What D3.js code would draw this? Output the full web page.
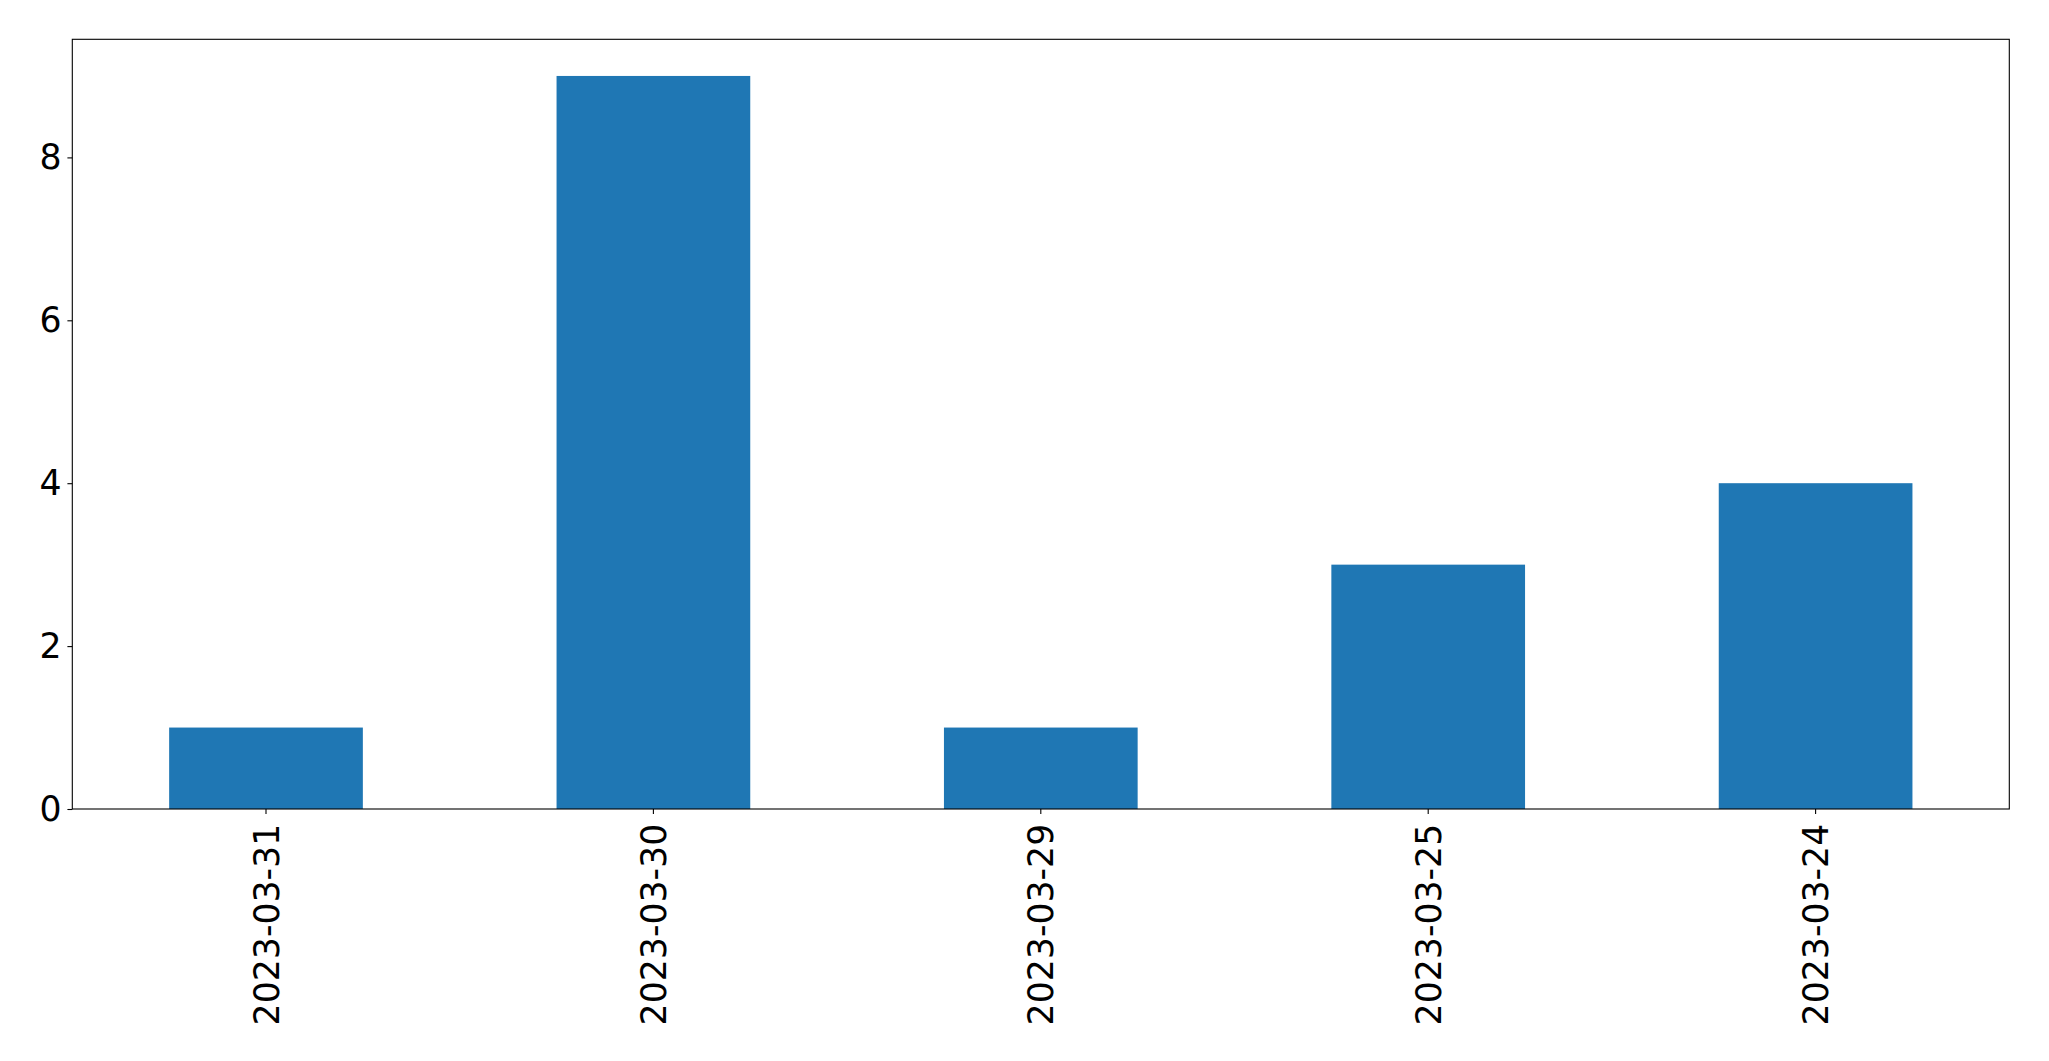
<!DOCTYPE html>
<html>
<head>
<meta charset="utf-8">
<script src="https://cdn.jsdelivr.net/npm/d3@7"></script>
<style>
  html, body { margin: 0; padding: 0; background: #fff; }
  svg { display: block; }
  .tick text { font-family: "DejaVu Sans", sans-serif; }
</style>
</head>
<body>
<svg id="chart" width="2049" height="1061"></svg>
<script>
const categories = ["2023-03-31", "2023-03-30", "2023-03-29", "2023-03-25", "2023-03-24"];
const values = [1, 9, 1, 3, 4];
const yTicks = [0, 2, 4, 6, 8];

const W = 2049, H = 1061;
const margin = { left: 72.3, top: 39.3, right: 39.7, bottom: 252 };
const x0 = margin.left, x1 = W - margin.right, y0 = H - margin.bottom, y1 = margin.top;
const fontSize = 34.7, tickLen = 4.9, pad = 4.9;

const svg = d3.select("#chart");
svg.append("rect").attr("width", W).attr("height", H).attr("fill", "#fff");

const x = d3.scaleBand().domain(categories).range([x0, x1]).paddingInner(0.5).paddingOuter(0.25);
const y = d3.scaleLinear().domain([0, d3.max(values) * 1.05]).range([y0, y1]);

svg.append("g").selectAll("rect").data(categories).join("rect")
  .attr("x", d => x(d))
  .attr("width", x.bandwidth())
  .attr("y", (d, i) => y(values[i]))
  .attr("height", (d, i) => y(0) - y(values[i]))
  .attr("fill", "#1f77b4");

// frame
svg.append("rect").attr("x", x0).attr("y", y1).attr("width", x1 - x0).attr("height", y0 - y1)
  .attr("fill", "none").attr("stroke", "#000").attr("stroke-width", 1.1);

const yAxis = svg.append("g").attr("transform", `translate(${x0},0)`)
  .call(d3.axisLeft(y).tickValues(yTicks).tickFormat(d3.format("d")).tickSize(tickLen).tickPadding(pad));
yAxis.attr("font-family", "DejaVu Sans").attr("font-size", fontSize);
yAxis.select(".domain").remove();
yAxis.selectAll("line").attr("stroke", "#000").attr("stroke-width", 1.1);
yAxis.selectAll("text").attr("fill", "#000").attr("x", -(tickLen + pad + 1));

const xAxis = svg.append("g").attr("transform", `translate(0,${y0})`)
  .call(d3.axisBottom(x).tickSize(tickLen).tickPadding(pad));
xAxis.attr("font-family", "DejaVu Sans").attr("font-size", fontSize);
xAxis.select(".domain").remove();
xAxis.selectAll("line").attr("stroke", "#000").attr("stroke-width", 1.1);
xAxis.selectAll("text")
  .attr("fill", "#000")
  .attr("transform", "rotate(-90)")
  .attr("x", -(tickLen + pad + 5))
  .attr("y", 0)
  .attr("dy", "0.36em")
  .style("text-anchor", "end");
</script>
</body>
</html>
